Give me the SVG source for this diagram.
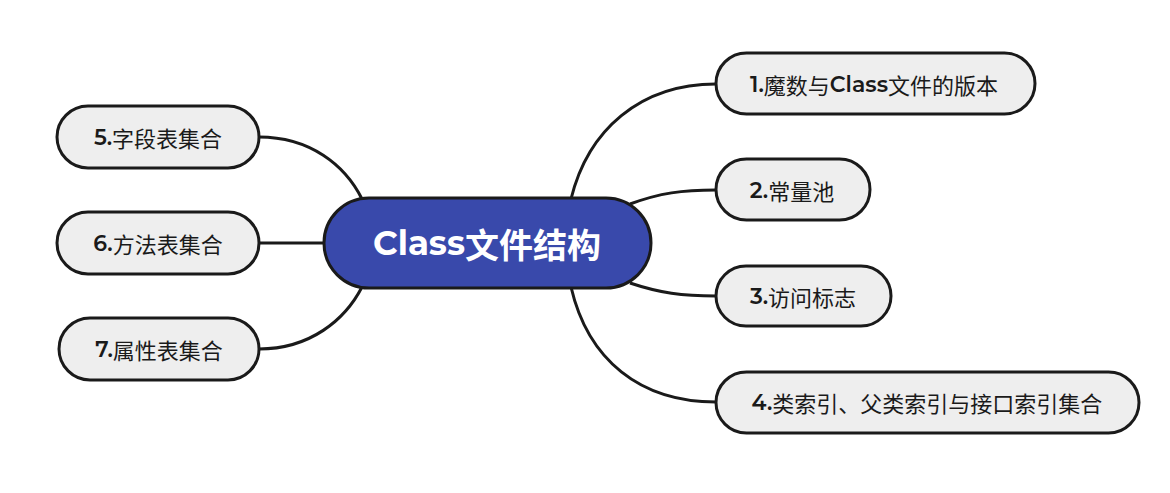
<svg xmlns="http://www.w3.org/2000/svg" width="1170" height="493" viewBox="0 0 1170 493">
<style>
.edge{fill:none;stroke:#1a1a1a;stroke-width:3}
.node rect{fill:#eeeeee;stroke:#1a1a1a;stroke-width:3}
.node text{font-family:"Noto Sans CJK SC","Noto Sans",sans-serif;font-size:22px;fill:#1a1a1a;text-anchor:middle;dominant-baseline:central}
.num{font-family:"Montserrat","Noto Sans","Liberation Sans",sans-serif;font-weight:600}
.root rect{fill:#3949ab;stroke:#1a1a1a;stroke-width:3}
.root text{font-family:"Noto Sans CJK SC","Noto Sans",sans-serif;font-size:34px;font-weight:bold;fill:#ffffff;text-anchor:middle;dominant-baseline:central}
</style>
<rect width="1170" height="493" fill="#ffffff"/>
<g id="connectors">
<path class="edge" d="M571,199 C588,130 640,84 716,84"/>
<path class="edge" d="M630,204 C660,193 682,190 716,190"/>
<path class="edge" d="M630,283 C660,293 682,296 716,296"/>
<path class="edge" d="M571,287 C588,360 640,402 716,402"/>
<path class="edge" d="M259,137 C310,137 345,165 362,199"/>
<path class="edge" d="M259,243 L325,243"/>
<path class="edge" d="M259,349 C310,349 345,320 362,287"/>
</g>
<g id="root" class="root">
<rect x="324" y="198" width="327" height="90" rx="45"/>
<text x="487" y="243"><tspan font-family="Montserrat,'Noto Sans','Liberation Sans',sans-serif">Class</tspan>文件结构</text>
</g>
<g id="n1" class="node">
<rect x="716" y="53" width="319" height="61" rx="30.5"/>
<text x="874" y="84"><tspan class="num">1.</tspan>魔数与<tspan class="num">Class</tspan>文件的版本</text>
</g>
<g id="n2" class="node">
<rect x="716" y="159" width="154" height="61" rx="30.5"/>
<text x="792" y="190"><tspan class="num">2.</tspan>常量池</text>
</g>
<g id="n3" class="node">
<rect x="716" y="266" width="175" height="60" rx="30"/>
<text x="803" y="296"><tspan class="num">3.</tspan>访问标志</text>
</g>
<g id="n4" class="node">
<rect x="716" y="372" width="423" height="61" rx="30.5"/>
<text x="927" y="402"><tspan class="num">4.</tspan>类索引、父类索引与接口索引集合</text>
</g>
<g id="n5" class="node">
<rect x="57" y="106" width="202" height="62" rx="31"/>
<text x="158" y="137"><tspan class="num">5.</tspan>字段表集合</text>
</g>
<g id="n6" class="node">
<rect x="57" y="212" width="202" height="62" rx="31"/>
<text x="158" y="243"><tspan class="num">6.</tspan>方法表集合</text>
</g>
<g id="n7" class="node">
<rect x="59" y="318" width="200" height="62" rx="31"/>
<text x="159" y="349"><tspan class="num">7.</tspan>属性表集合</text>
</g>
</svg>
